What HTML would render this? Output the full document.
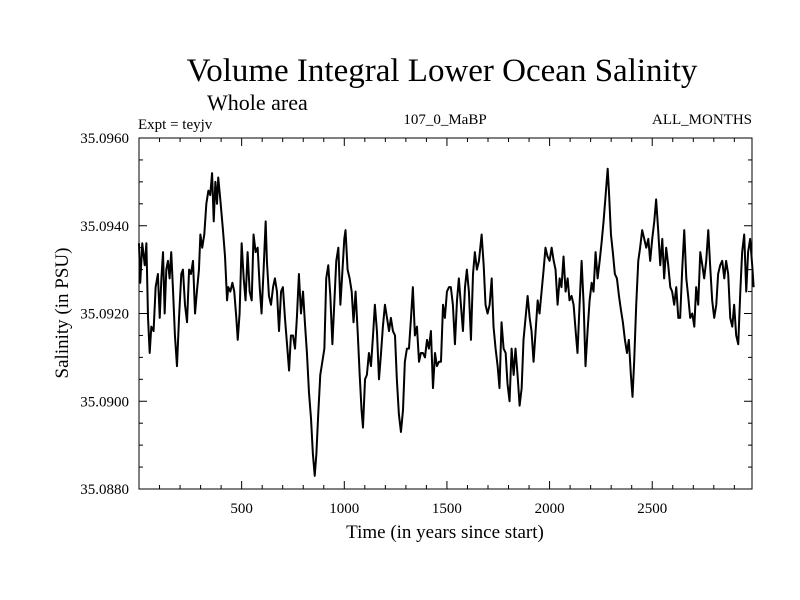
<!DOCTYPE html>
<html><head><meta charset="utf-8"><style>
html,body{margin:0;padding:0;background:#fff;}
svg{display:block;font-family:"Liberation Serif",serif;}
</style></head><body>
<svg id="chart" width="800" height="600" viewBox="0 0 800 600" xmlns="http://www.w3.org/2000/svg">
<rect width="800" height="600" fill="#fff"/>
<text x="442" y="81" font-size="33" text-anchor="middle">Volume Integral Lower Ocean Salinity</text>
<text x="207" y="110" font-size="22">Whole area</text>
<text x="138" y="129" font-size="15">Expt = teyjv</text>
<text x="445" y="124" font-size="15" text-anchor="middle">107_0_MaBP</text>
<text x="752" y="124" font-size="15" text-anchor="end">ALL_MONTHS</text>
<text x="445" y="538" font-size="19" text-anchor="middle">Time (in years since start)</text>
<text x="0" y="0" font-size="19" text-anchor="middle" transform="translate(68,313) rotate(-90)">Salinity (in PSU)</text>
<g id="axes"></g>
<path id="series" fill="none" stroke="#000" stroke-width="2" stroke-linejoin="round"/>
<rect x="139" y="138" width="613" height="351" fill="none" stroke="#000" stroke-width="1"/>
</svg>
<script>
const years=[0,6,16,28,36,44,52,60,71,81,92,101,109,117,125,133,141,149,157,166,175,185,195,206,214,224,234,244,253,263,273,282,292,299,308,318,328,338,347,356,364,372,380,386,396,409,419,429,435,445,455,464,474,481,490,500,510,519,529,539,549,558,568,578,588,597,607,617,623,633,643,653,662,672,682,692,701,711,721,731,740,750,760,769,779,789,799,808,818,828,838,847,856,864,873,883,893,903,912,922,932,942,951,961,971,981,990,1000,1006,1016,1026,1036,1045,1055,1065,1075,1084,1091,1101,1110,1120,1130,1140,1149,1159,1169,1179,1188,1198,1208,1218,1227,1237,1247,1256,1266,1276,1286,1295,1305,1315,1325,1334,1344,1354,1364,1373,1383,1393,1403,1412,1422,1432,1442,1451,1461,1471,1481,1490,1500,1510,1519,1529,1539,1549,1558,1568,1578,1588,1597,1607,1617,1627,1636,1646,1656,1669,1679,1688,1698,1708,1718,1727,1737,1747,1756,1766,1776,1786,1795,1805,1815,1825,1834,1844,1854,1864,1873,1883,1893,1903,1912,1922,1932,1942,1951,1961,1971,1980,1990,2000,2010,2020,2029,2039,2049,2058,2068,2078,2088,2097,2107,2117,2127,2136,2146,2156,2166,2175,2185,2195,2205,2214,2224,2234,2244,2253,2263,2273,2283,2289,2299,2308,2318,2328,2338,2347,2357,2367,2377,2386,2396,2404,2412,2422,2432,2441,2451,2461,2471,2481,2490,2500,2510,2519,2529,2539,2549,2558,2568,2578,2588,2597,2607,2617,2627,2636,2646,2656,2666,2675,2685,2695,2705,2714,2724,2734,2744,2753,2763,2773,2782,2792,2802,2812,2821,2831,2841,2851,2860,2870,2880,2890,2899,2909,2919,2929,2938,2948,2958,2967,2977,2987,2994];
const salinity=[35.0936,35.0927,35.0936,35.0931,35.0936,35.0919,35.0911,35.0917,35.0916,35.0926,35.0929,35.0919,35.0928,35.0934,35.0920,35.0930,35.0932,35.0928,35.0934,35.0925,35.0915,35.0908,35.0919,35.0929,35.0930,35.0922,35.0918,35.0930,35.0929,35.0932,35.0920,35.0925,35.0930,35.0938,35.0935,35.0938,35.0945,35.0948,35.0947,35.0952,35.0941,35.0950,35.0945,35.0951,35.0946,35.0939,35.0933,35.0923,35.0926,35.0925,35.0927,35.0925,35.0919,35.0914,35.0920,35.0936,35.0928,35.0923,35.0934,35.0925,35.0923,35.0938,35.0934,35.0935,35.0926,35.0920,35.0930,35.0941,35.0932,35.0924,35.0922,35.0926,35.0928,35.0925,35.0916,35.0925,35.0926,35.0919,35.0913,35.0907,35.0915,35.0915,35.0912,35.0919,35.0929,35.0920,35.0925,35.0918,35.0911,35.0902,35.0896,35.0888,35.0883,35.0888,35.0897,35.0906,35.0909,35.0912,35.0928,35.0931,35.0924,35.0913,35.0922,35.0932,35.0935,35.0922,35.0929,35.0937,35.0939,35.0930,35.0928,35.0925,35.0918,35.0925,35.0916,35.0906,35.0898,35.0894,35.0905,35.0906,35.0911,35.0908,35.0915,35.0922,35.0916,35.0905,35.0911,35.0917,35.0922,35.0919,35.0916,35.0919,35.0916,35.0915,35.0905,35.0897,35.0893,35.0898,35.0909,35.0912,35.0912,35.0919,35.0926,35.0915,35.0917,35.0909,35.0911,35.0911,35.0910,35.0914,35.0912,35.0916,35.0903,35.0911,35.0908,35.0909,35.0909,35.0922,35.0919,35.0925,35.0926,35.0926,35.0922,35.0913,35.0923,35.0928,35.0922,35.0916,35.0926,35.0930,35.0925,35.0914,35.0929,35.0934,35.0930,35.0932,35.0938,35.0931,35.0922,35.0920,35.0922,35.0928,35.0917,35.0912,35.0908,35.0903,35.0918,35.0912,35.0911,35.0904,35.0900,35.0912,35.0906,35.0912,35.0906,35.0899,35.0903,35.0914,35.0919,35.0924,35.0919,35.0916,35.0909,35.0916,35.0923,35.0920,35.0925,35.0930,35.0935,35.0933,35.0932,35.0935,35.0932,35.0930,35.0922,35.0928,35.0926,35.0933,35.0925,35.0928,35.0923,35.0924,35.0922,35.0916,35.0911,35.0922,35.0932,35.0922,35.0908,35.0916,35.0923,35.0927,35.0925,35.0934,35.0928,35.0932,35.0936,35.0941,35.0947,35.0953,35.0948,35.0938,35.0934,35.0929,35.0928,35.0924,35.0921,35.0918,35.0914,35.0911,35.0914,35.0906,35.0901,35.0909,35.0922,35.0932,35.0935,35.0939,35.0937,35.0935,35.0937,35.0932,35.0937,35.0941,35.0946,35.0939,35.0931,35.0937,35.0928,35.0935,35.0931,35.0926,35.0925,35.0922,35.0926,35.0919,35.0919,35.0930,35.0939,35.0928,35.0924,35.0919,35.0920,35.0917,35.0926,35.0922,35.0934,35.0931,35.0928,35.0932,35.0939,35.0931,35.0923,35.0919,35.0922,35.0929,35.0931,35.0932,35.0928,35.0932,35.0929,35.0919,35.0917,35.0922,35.0915,35.0913,35.0925,35.0934,35.0938,35.0925,35.0934,35.0937,35.0931,35.0926];
const xTickValues=[500,1000,1500,2000,2500];
const xTickLabels=["500","1000","1500","2000","2500"];
const yTickValues=[35.088,35.090,35.092,35.094,35.096];
const yTickLabels=["35.0880","35.0900","35.0920","35.0940","35.0960"];
const xDomain=[0,2986];
const yDomain=[35.088,35.096];

const L=139,R=752,T=138,B=489;
function xs(v){return L+(v-xDomain[0])/(xDomain[1]-xDomain[0])*(R-L);}
function ys(v){return B-(v-yDomain[0])/(yDomain[1]-yDomain[0])*(B-T);}
const NS="http://www.w3.org/2000/svg";
const axes=document.getElementById('axes');
function line(x1,y1,x2,y2,name){
  const l=document.createElementNS(NS,'line');
  l.setAttribute('x1',x1);l.setAttribute('y1',y1);l.setAttribute('x2',x2);l.setAttribute('y2',y2);
  l.setAttribute('stroke','#000');l.setAttribute('stroke-width','1');
  
  
  axes.appendChild(l);
}
function text(x,y,s,anchor,name){
  const t=document.createElementNS(NS,'text');
  t.setAttribute('x',x);t.setAttribute('y',y);t.setAttribute('font-size','15');t.setAttribute('text-anchor',anchor);
  t.textContent=s;
  
  
  axes.appendChild(t);
}
for(let v=100;v<xDomain[1];v+=100){
  const x=xs(v);const len=(v%500===0)?8:4;
  line(x,B,x,B-len,'x-tick');
  line(x,T,x,T+len,'x-tick-top');
}
xTickValues.forEach((v,i)=>text(xs(v),513,xTickLabels[i],'middle','x-tick-label'));
for(let k=0;k<=16;k++){
  const v=yDomain[0]+k*0.0005;const y=ys(v);const len=(k%4===0)?8:4;
  line(L,y,L+len,y,'y-tick');
  line(R,y,R-len,y,'y-tick-right');
}
yTickValues.forEach((v,i)=>text(129,ys(v)+5,yTickLabels[i],'end','y-tick-label'));
let d='';
years.forEach((yr,i)=>{d+=(i?'L':'M')+xs(yr).toFixed(2)+','+ys(salinity[i]).toFixed(2);});
document.getElementById('series').setAttribute('d',d);
</script>
</body></html>
